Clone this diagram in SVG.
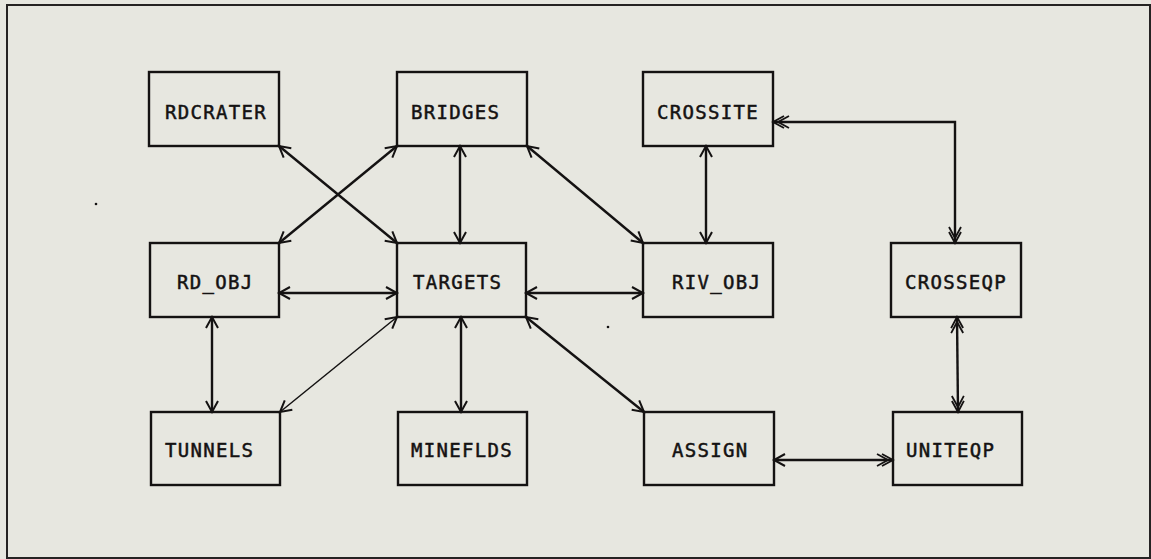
<svg xmlns="http://www.w3.org/2000/svg" width="1151" height="559" viewBox="0 0 1151 559">
  <style>
    .box { fill: none; stroke: #141212; stroke-width: 2.4; }
    .lbl { font-family: "DejaVu Sans Mono", "Liberation Mono", monospace; font-size: 19px; letter-spacing: 1.3px; fill: #141212; stroke: #141212; stroke-width: 0.5px; }
    .edge { fill: none; stroke: #141212; stroke-width: 2.4; }
    .thin { stroke-width: 1.5; }
    .one { marker-start: url(#arr); marker-end: url(#arr); }
    .two { marker-start: url(#arr2); marker-end: url(#arr2); }
  </style>
  <defs>
    <marker id="arr" markerUnits="userSpaceOnUse" orient="auto-start-reverse" overflow="visible" refX="0" refY="0" markerWidth="1" markerHeight="1">
      <path d="M-11,-6 L0,0 L-11,6" fill="none" stroke="#141212" stroke-width="2"/>
    </marker>
    <marker id="arr2" markerUnits="userSpaceOnUse" orient="auto-start-reverse" overflow="visible" refX="0" refY="0" markerWidth="1" markerHeight="1">
      <path d="M-11,-6 L0,0 L-11,6 M-16,-6 L-5,0 L-16,6" fill="none" stroke="#141212" stroke-width="1.8"/>
    </marker>
  </defs>

  <!-- page background and frame -->
  <rect x="0" y="0" width="1151" height="559" fill="#e7e7e0"/>
  <rect x="7" y="5" width="1143" height="553" fill="none" stroke="#252323" stroke-width="2"/>

  <!-- connectors -->
  <g id="connectors">
    <line class="edge one" x1="279" y1="146" x2="397" y2="243"/>
    <line class="edge one" x1="397" y1="146" x2="279" y2="243"/>
    <line class="edge one" x1="460" y1="146" x2="460" y2="243"/>
    <line class="edge one" x1="527" y1="146" x2="643" y2="243"/>
    <line class="edge one" x1="706" y1="146" x2="706" y2="243"/>
    <polyline class="edge two" points="773,122 955,122 955,243"/>
    <line class="edge one" x1="279" y1="293" x2="397" y2="293"/>
    <line class="edge one" x1="526" y1="293" x2="643" y2="293"/>
    <line class="edge one" x1="212" y1="317" x2="212" y2="412"/>
    <line class="edge thin one" x1="397" y1="317" x2="280" y2="412"/>
    <line class="edge one" x1="461" y1="317" x2="461" y2="412"/>
    <line class="edge one" x1="526" y1="317" x2="644" y2="412"/>
    <line class="edge two" x1="957" y1="317" x2="958" y2="412"/>
    <line class="edge" x1="774" y1="460" x2="893" y2="460" marker-start="url(#arr)" marker-end="url(#arr2)"/>
  </g>

  <!-- nodes -->
  <g id="rdcrater"><rect class="box" x="149" y="72" width="130" height="74"/><text class="lbl" x="165" y="119">RDCRATER</text></g>
  <g id="bridges"><rect class="box" x="397" y="72" width="130" height="74"/><text class="lbl" x="411" y="119">BRIDGES</text></g>
  <g id="crossite"><rect class="box" x="643" y="72" width="130" height="74"/><text class="lbl" x="657" y="119">CROSSITE</text></g>
  <g id="rd_obj"><rect class="box" x="150" y="243" width="129" height="74"/><text class="lbl" x="177" y="289">RD_OBJ</text></g>
  <g id="targets"><rect class="box" x="397" y="243" width="129" height="74"/><text class="lbl" x="413" y="289">TARGETS</text></g>
  <g id="riv_obj"><rect class="box" x="643" y="243" width="130" height="74"/><text class="lbl" x="672" y="289">RIV_OBJ</text></g>
  <g id="crosseqp"><rect class="box" x="891" y="243" width="130" height="74"/><text class="lbl" x="905" y="289">CROSSEQP</text></g>
  <g id="tunnels"><rect class="box" x="151" y="412" width="129" height="73"/><text class="lbl" x="165" y="457">TUNNELS</text></g>
  <g id="mineflds"><rect class="box" x="398" y="412" width="129" height="73"/><text class="lbl" x="411" y="457">MINEFLDS</text></g>
  <g id="assign"><rect class="box" x="644" y="412" width="130" height="73"/><text class="lbl" x="672" y="457">ASSIGN</text></g>
  <g id="uniteqp"><rect class="box" x="893" y="412" width="129" height="73"/><text class="lbl" x="906" y="457">UNITEQP</text></g>

  <!-- stray plotter specks -->
  <circle cx="96" cy="204" r="1.3" fill="#141212"/>
  <circle cx="608" cy="327" r="1.3" fill="#141212"/>
</svg>
